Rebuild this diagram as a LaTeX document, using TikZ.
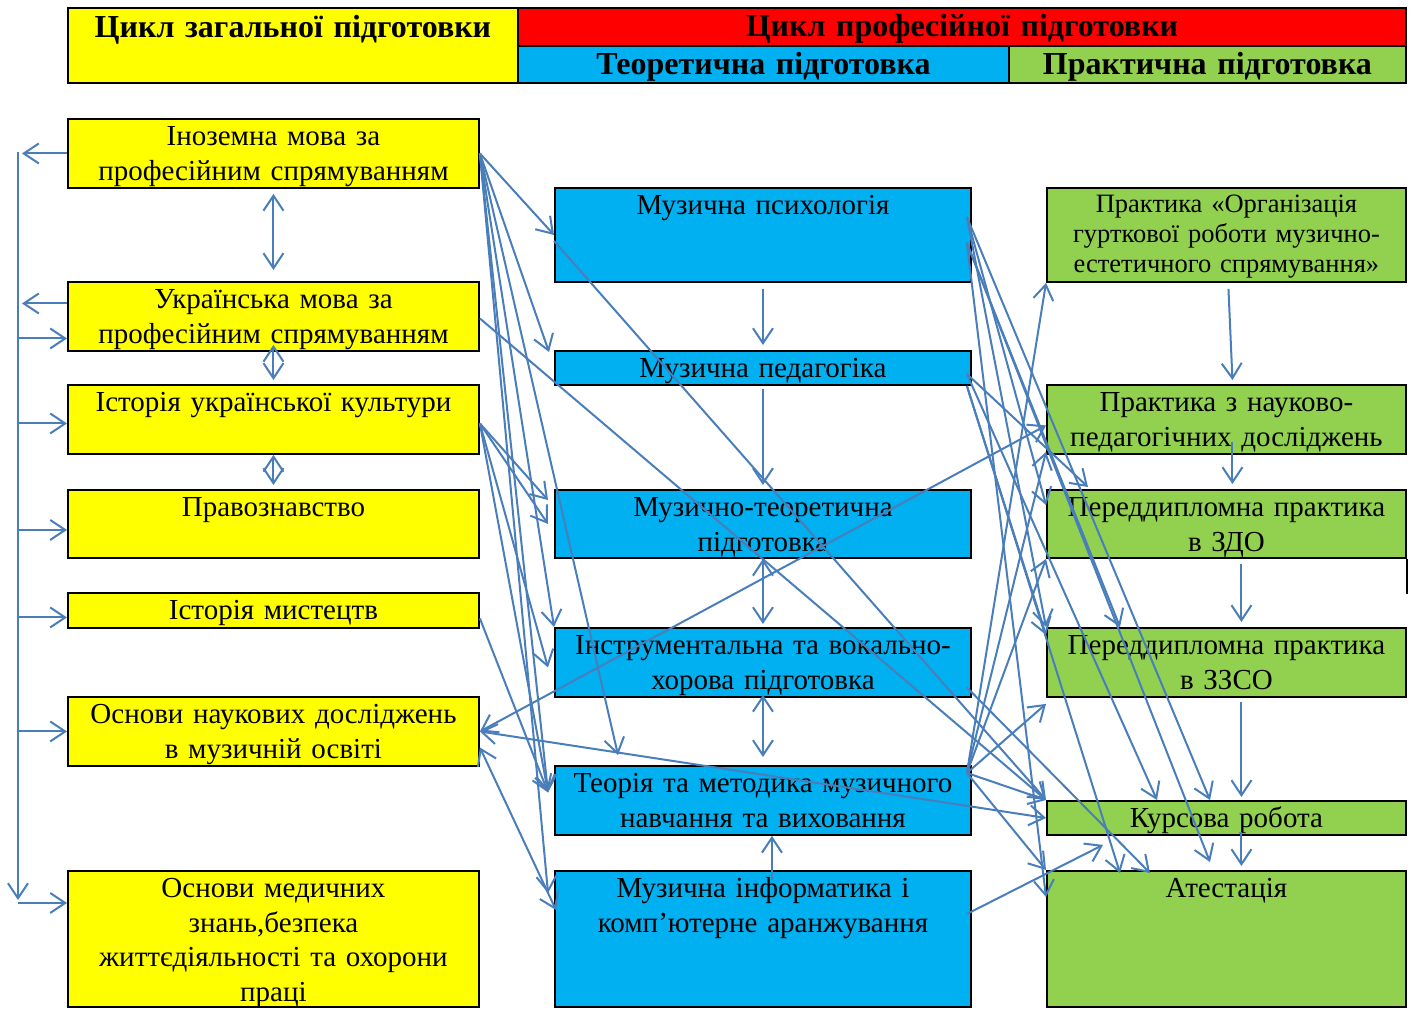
\documentclass[tikz,border=0pt]{standalone}
\usepackage{fontspec}
\setmainfont{Liberation Serif}
\usetikzlibrary{arrows.meta,positioning}

\definecolor{zhovt}{RGB}{255,255,0}
\definecolor{cherv}{RGB}{255,0,0}
\definecolor{blak}{RGB}{0,176,240}
\definecolor{zel}{RGB}{146,208,80}
\definecolor{strilka}{RGB}{74,126,187}

\begin{document}
\begin{tikzpicture}[x=1pt,y=-1pt]
			\tikzstyle{Cell}	= [draw=black, line width=1.9pt, inner sep=0pt, anchor=north west, align=center, text height=27pt, font=\fontsize{29}{34.5}\selectfont]
			\tikzstyle{Head}	= [Cell, text height=29pt, font=\bfseries\fontsize{32}{34}\selectfont]
			\tikzstyle{ZC}		= [Cell, fill=zhovt, text width=411pt]
			\tikzstyle{TC}		= [Cell, fill=blak, text width=416pt]
			\tikzstyle{PC}		= [Cell, fill=zel, text width=359pt]
			\tikzstyle{Link}	= [strilka, line width=2pt]
			\tikzstyle{Arr}		= [Link, -{Straight Barb[length=15pt,width=20pt]}]
			\tikzstyle{DArr}	= [Link, {Straight Barb[length=15pt,width=20pt]}-{Straight Barb[length=15pt,width=20pt]}]

			\useasboundingbox (0,0) rectangle (1416,1010);

			% header
			\node (hgen) at (67,7) [Head, fill=zhovt, text width=450pt, text height=30pt, text depth=45pt] {Цикл загальної підготовки};
			\node (hprof) at (517,7) [Head, fill=cherv, text width=888pt, text depth=9pt] {Цикл професійної підготовки};
			\node (htheor) at (517,45) [Head, fill=blak, text width=491pt, text depth=8pt] {Теоретична підготовка};
			\node (hpract) at (1008,45) [Head, fill=zel, text width=397pt, text depth=8pt] {Практична підготовка};

			% general cycle
			\node (ino) at (67,118) [ZC, text depth=42pt] {Іноземна мова за\\професійним спрямуванням};
			\node (ukr) at (67,281) [ZC, text depth=42pt] {Українська мова за\\професійним спрямуванням};
			\node (ikult) at (67,384) [ZC, text depth=42pt] {Історія української культури};
			\node (pravo) at (67,489) [ZC, text depth=41pt] {Правознавство};
			\node (imyst) at (67,592) [ZC, text depth=8pt] {Історія мистецтв};
			\node (osnnauk) at (67,696) [ZC, text depth=42pt] {Основи наукових досліджень\\в музичній освіті};
			\node (osnmed) at (67,870) [ZC, text depth=109pt] {Основи медичних\\знань,безпека\\життєдіяльності та охорони\\праці};

			% theoretical
			\node (mpsych) at (554,187) [TC, text depth=67pt] {Музична психологія};
			\node (mped) at (554,350) [TC, text depth=7pt] {Музична педагогіка};
			\node (mteor) at (554,489) [TC, text depth=41pt] {Музично-теоретична\\підготовка};
			\node (instr) at (554,627) [TC, text depth=42pt] {Інструментальна та вокально-\\хорова підготовка};
			\node (teor) at (554,765) [TC, text depth=42pt] {Теорія та методика музичного\\навчання та виховання};
			\node (inform) at (554,870) [TC, text depth=109pt] {Музична інформатика і\\комп’ютерне аранжування};

			% practical
			\node (porg) at (1046,187) [PC, text height=25pt, text depth=69pt, font=\fontsize{26.5}{30}\selectfont] {Практика «Організація\\гурткової роботи музично-\\естетичного спрямування»};
			\node (pnauk) at (1046,384) [PC, text depth=42pt] {Практика з науково-\\педагогічних досліджень};
			\node (zdo) at (1046,489) [PC, text depth=41pt] {Переддипломна практика\\в ЗДО};
			\node (zzso) at (1046,627) [PC, text depth=42pt] {Переддипломна практика\\в ЗЗСО};
			\node (kurs) at (1046,800) [PC, text depth=7pt] {Курсова робота};
			\node (atest) at (1046,870) [PC, text depth=109pt] {Атестація};
			\draw [black, line width=1.9pt] (zdo.south east) -- ++(0,35);

			% left bus
			\coordinate (bt) at (18,152);
			\coordinate (bb) at (18,900);
			\draw [Arr] (bt) -- (bb);
			\draw [Arr] (ino.west) -- ([xshift=-45pt]ino.west);
			\draw [Arr] ([yshift=13pt]ukr.west) -- ([xshift=-45pt,yshift=13pt]ukr.west);
			\foreach \n/\dy in {ukr/-22, ikult/-4, pravo/-6, imyst/-7, osnnauk/0, osnmed/36}
				\draw [Arr] ([xshift=-49pt,yshift=\dy pt]\n.west) -- ([yshift=\dy pt]\n.west);

			% vertical links
			\draw [DArr] ([yshift=-5pt]ino.south) -- ([yshift=11pt]ukr.north);
			\draw [DArr] ([yshift=7pt]ukr.south) -- ([yshift=4pt]ikult.north);
			\draw [DArr] (ikult.south) -- ([yshift=4pt]pravo.north);
			\draw [Arr] ([yshift=-6pt]mpsych.south) -- ([yshift=5pt]mped.north);
			\draw [Arr] ([yshift=-3pt]mped.south) -- ([yshift=4pt]mteor.north);
			\draw [DArr] (mteor.south) -- ([yshift=3pt]instr.north);
			\draw [DArr] ([yshift=3pt]instr.south) -- ([yshift=8pt]teor.north);
			\draw [Arr] ([xshift=9pt,yshift=-10pt]inform.north) -- ([xshift=9pt]teor.south);
			\draw [Arr] ([xshift=2pt,yshift=-6pt]porg.south) -- ([xshift=6pt,yshift=4pt]pnauk.north);
			\draw [Arr] ([xshift=6pt,yshift=13pt]pnauk.south) -- ([xshift=6pt,yshift=5pt]zdo.north);
			\draw [Arr] ([xshift=15pt,yshift=-5pt]zdo.south) -- ([xshift=15pt,yshift=5pt]zzso.north);
			\draw [Arr] ([xshift=15pt,yshift=-4pt]zzso.south) -- ([xshift=15pt,yshift=3pt]kurs.north);
			\draw [Arr] ([xshift=15pt,yshift=4pt]kurs.south) -- ([xshift=15pt,yshift=4pt]atest.north);

			% general -> professional
			\draw [Arr] (ino.east) to (mpsych.west);
			\draw [Arr] (ino.east) to ([xshift=-5pt,yshift=-2pt]mped.north west);
			\draw [Arr] (ino.east) to (instr.north west);
			\draw [Arr] (ino.east) to ([xshift=-6pt,yshift=8pt]teor.west);
			\draw [Arr] (ino.east) to ([xshift=-6pt,yshift=-23pt]inform.north west);
			\draw [Arr] (ino.east) to ([xshift=64pt,yshift=10pt]teor.north west);
			\draw [Arr] ([yshift=-4pt]ikult.east) to ([xshift=-6pt,yshift=-11pt]mteor.north west);
			\draw [Arr] ([yshift=-4pt]ikult.east) to ([xshift=-6pt]mteor.west);
			\draw [Arr] ([yshift=-4pt]ikult.east) to ([xshift=-6pt,yshift=-5pt]instr.west);
			\draw [Arr] ([yshift=-4pt]ikult.east) to ([xshift=-6pt,yshift=8pt]teor.west);
			\draw [Arr] ([yshift=-8pt]imyst.east) to ([xshift=-6pt,yshift=8pt]teor.west);
			\draw [Arr] ([yshift=-2pt]ukr.east) to (kurs.north west);
			\draw [Arr] ([yshift=-6pt]mpsych.west) to (kurs.north west);
			\draw [DArr] (osnnauk.east) to ([yshift=-6pt]pnauk.west);
			\draw [DArr] (osnnauk.east) to (kurs.west);
			\draw [DArr] ([yshift=-16pt]osnnauk.east) to ([xshift=2pt,yshift=-40pt]inform.north west);

			% theoretical -> practical
			\draw [Arr] ([xshift=-5pt,yshift=-30pt]mpsych.north east) to ([yshift=-16pt]zdo.north west);
			\draw [Arr] ([xshift=-5pt,yshift=-30pt]mpsych.north east) to (zzso.north west);
			\draw [Arr] ([xshift=-5pt,yshift=-30pt]mpsych.north east) to ([xshift=164pt]kurs.north west);
			\draw [Arr] ([xshift=-5pt,yshift=-8pt]mpsych.east) to ([xshift=74pt]zzso.north west);
			\draw [Arr] ([xshift=-5pt,yshift=-8pt]mpsych.east) to ([yshift=-27pt]atest.north west);
			\draw [Arr] ([xshift=-5pt,yshift=-8pt]mpsych.east) to ([xshift=164pt,yshift=8pt]atest.north west);
			\draw [Arr] ([xshift=-5pt,yshift=-6pt]mped.east) to ([xshift=42pt,yshift=2pt]zdo.north west);
			\draw [Arr] ([xshift=-5pt,yshift=-6pt]mped.east) to ([xshift=111pt]kurs.north west);
			\draw [Arr] ([xshift=-5pt,yshift=-18pt]mped.east) to ([yshift=-8pt]zzso.north west);
			\draw [Arr] ([xshift=-5pt,yshift=-18pt]mped.east) to ([xshift=74pt,yshift=-3pt]atest.north west);
			\draw [Arr] ([xshift=-5pt,yshift=-25pt]instr.east) to ([xshift=104pt,yshift=-3pt]atest.north west);
			\draw [Arr] ([xshift=-5pt,yshift=-8pt]teor.north east) to (porg.south west);
			\draw [Arr] ([xshift=-5pt,yshift=-8pt]teor.north east) to ([yshift=3pt]pnauk.south west);
			\draw [Arr] ([xshift=-5pt,yshift=-8pt]teor.north east) to (zdo.south west);
			\draw [Arr] ([xshift=-5pt,yshift=-8pt]teor.north east) to ([yshift=-6pt]zzso.south west);
			\draw [Arr] ([xshift=-5pt,yshift=-8pt]teor.north east) to (kurs.north west);
			\draw [Arr] ([xshift=-5pt,yshift=-8pt]teor.north east) to (atest.north west);
			\draw [Arr] ([xshift=-5pt,yshift=25pt]inform.east) to ([xshift=57pt,yshift=-9pt]kurs.south west);

\end{tikzpicture}
\end{document}
